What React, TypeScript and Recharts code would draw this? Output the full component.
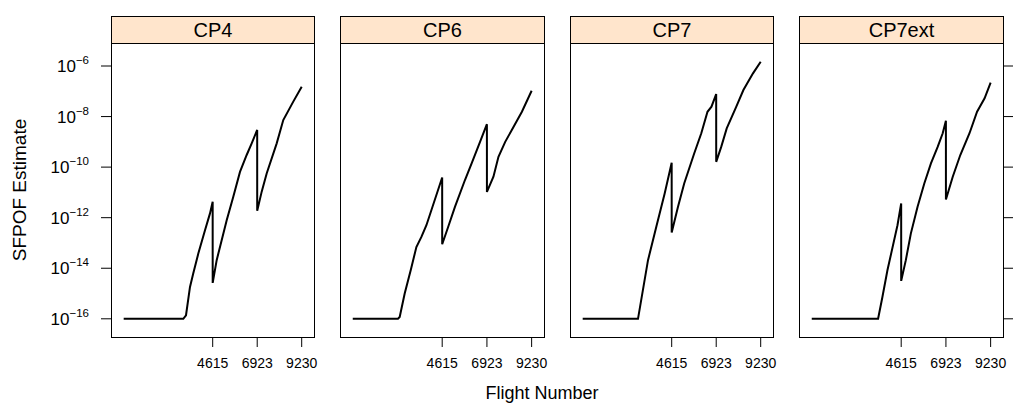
import React from "react";
import { LineChart, Line, XAxis, YAxis } from "recharts";

// flight numbers and log10(SFPOF)
const cp4Flights = [0, 3091, 3231, 3438, 3609, 3869, 4216, 4475, 4614, 4615, 4822, 5341, 5683, 6030, 6377, 6637, 6922, 6923, 7156, 7414, 7934, 8275, 8793, 9230];
const cp4Values = [-16, -16, -15.86, -14.74, -14.2, -13.42, -12.5, -11.83, -11.37, -14.58, -13.68, -12.1, -11.17, -10.19, -9.52, -9.06, -8.53, -11.73, -10.97, -10.25, -9.06, -8.14, -7.41, -6.82];

const cp6Flights = [0, 2334, 2422, 2680, 3000, 3283, 3542, 3801, 4614, 4615, 4926, 5273, 5790, 6134, 6568, 6922, 6923, 7259, 7518, 7866, 8207, 8728, 9230];
const cp6Values = [-16, -16, -15.93, -15.0, -14.05, -13.16, -12.76, -12.3, -10.41, -13.05, -12.36, -11.57, -10.51, -9.85, -9.0, -8.3, -10.98, -10.38, -9.59, -9.0, -8.53, -7.81, -6.98];

const cp7Flights = [0, 2868, 3387, 3817, 4251, 4614, 4615, 4942, 5263, 5781, 6150, 6471, 6678, 6922, 6923, 7187, 7468, 7965, 8333, 8831, 9230];
const cp7Values = [-16, -16, -13.68, -12.36, -11.04, -9.83, -12.59, -11.57, -10.65, -9.46, -8.66, -7.81, -7.61, -7.11, -9.79, -9.19, -8.47, -7.61, -6.95, -6.29, -5.83];

const cp7extFlights = [0, 3423, 3646, 3905, 4423, 4614, 4615, 4854, 5112, 5460, 5807, 6150, 6497, 6757, 6922, 6923, 7275, 7665, 8140, 8530, 8918, 9230];
const cp7extValues = [-16, -16, -15.14, -14.08, -12.3, -11.44, -14.5, -13.68, -12.63, -11.57, -10.65, -9.85, -9.2, -8.66, -8.17, -11.28, -10.38, -9.52, -8.66, -7.81, -7.28, -6.66];

const xTicks = [4615, 6923, 9230];
const yTicks = [-16, -14, -12, -10, -8, -6];
const panelNames = ["CP4", "CP6", "CP7", "CP7ext"];

const FONT = "'Liberation Sans', Arial, Helvetica, sans-serif";
const X_DOMAIN = [-658, 9868];
const Y_DOMAIN = [-16.72, -5.09];
const PLOT_TOP = 43;
const PLOT_BOTTOM = 337;

const toRows = (flights: number[], values: number[]) =>
  flights.map((f, i) => ({ flight: f, est: values[i] }));

const panelData = [
  toRows(cp4Flights, cp4Values),
  toRows(cp6Flights, cp6Values),
  toRows(cp7Flights, cp7Values),
  toRows(cp7extFlights, cp7extValues),
];

// plot box left/right edges, and the svg placement around them
const panels = [
  { left: 111, right: 314, sx: 0, sw: 330 },
  { left: 340, right: 544, sx: 325, sw: 235 },
  { left: 570, right: 773, sx: 555, sw: 235 },
  { left: 799, right: 1003, sx: 784, sw: 229 },
];

const PowerTick = (props: any) => {
  const { x, y, payload } = props;
  return (
    <text x={x} y={y + 6} textAnchor="end" fontSize={17} fill="#000" fontFamily={FONT}>
      10
      <tspan dy={-8} fontSize={11.5}>{`\u2212${Math.abs(payload.value)}`}</tspan>
    </text>
  );
};

const TopTick = (props: any) => {
  const { x } = props;
  return <line x1={x} x2={x} y1={5} y2={16} stroke="#000" strokeWidth={1} />;
};

const NoLabel = () => <g />;

function Panel({ idx }: { idx: number }) {
  const p = panels[idx];
  const first = idx === 0;
  const last = idx === panels.length - 1;
  const leftW = first ? p.left - p.sx : 0;
  const rightW = last ? 10 : 0;
  const mLeft = p.left - p.sx - leftW;
  const mRight = p.sx + p.sw - p.right - rightW;
  return (
    <div style={{ position: "absolute", left: p.sx, top: 0 }}>
      <LineChart
        width={p.sw}
        height={412}
        data={panelData[idx]}
        margin={{ top: PLOT_TOP, bottom: 0, left: mLeft, right: mRight }}
      >
        <XAxis
          xAxisId="b"
          dataKey="flight"
          type="number"
          domain={X_DOMAIN}
          ticks={xTicks}
          interval={0}
          allowDataOverflow
          height={412 - PLOT_BOTTOM}
          tickSize={10}
          tickMargin={11}
          axisLine={false}
          stroke="#000"
          tick={{ fill: "#000", fontSize: 14, fontFamily: FONT }}
        />
        <XAxis
          xAxisId="t"
          orientation="top"
          dataKey="flight"
          type="number"
          domain={X_DOMAIN}
          ticks={xTicks}
          interval={0}
          allowDataOverflow
          height={0}
          tickLine={false}
          axisLine={false}
          tick={<TopTick />}
        />
        <YAxis
          yAxisId="y"
          orientation={last ? "right" : "left"}
          hide={!first && !last}
          type="number"
          domain={Y_DOMAIN}
          ticks={yTicks}
          interval={0}
          allowDataOverflow
          width={first ? leftW : rightW}
          tickSize={10}
          tickMargin={12}
          axisLine={false}
          tick={first ? <PowerTick /> : <NoLabel />}
          stroke="#000"
        />
        <Line
          xAxisId="b"
          yAxisId="y"
          type="linear"
          dataKey="est"
          stroke="#000"
          strokeWidth={2}
          dot={false}
          isAnimationActive={false}
        />
      </LineChart>
      <div
        style={{
          position: "absolute",
          left: p.left - p.sx,
          top: PLOT_TOP,
          width: p.right - p.left + 1,
          height: PLOT_BOTTOM - PLOT_TOP + 1,
          boxSizing: "border-box",
          border: "1px solid #000",
          pointerEvents: "none",
        }}
      />
      <div
        style={{
          position: "absolute",
          left: p.left - p.sx,
          top: 16,
          width: p.right - p.left + 1,
          height: PLOT_TOP - 16 + 1,
          boxSizing: "border-box",
          border: "1px solid #000",
          background: "#ffe5cc",
          fontFamily: FONT,
          fontSize: 20,
          lineHeight: "26px",
          textAlign: "center",
          color: "#000",
        }}
      >
        {panelNames[idx]}
      </div>
    </div>
  );
}

export default function App() {
  return (
    <div style={{ position: "relative", width: 1013, height: 412, background: "#fff", overflow: "hidden" }}>
      <style>{`body{margin:0}`}</style>
      {panels.map((_, i) => (
        <Panel key={i} idx={i} />
      ))}
      <div
        style={{
          position: "absolute",
          left: 442,
          width: 200,
          top: 383,
          textAlign: "center",
          fontFamily: FONT,
          fontSize: 18,
          color: "#000",
        }}
      >
        Flight Number
      </div>
      <div
        style={{
          position: "absolute",
          left: 20 - 100,
          top: 190 - 12,
          width: 200,
          height: 24,
          lineHeight: "24px",
          textAlign: "center",
          transform: "rotate(-90deg)",
          fontFamily: FONT,
          fontSize: 19,
          color: "#000",
        }}
      >
        SFPOF Estimate
      </div>
    </div>
  );
}
